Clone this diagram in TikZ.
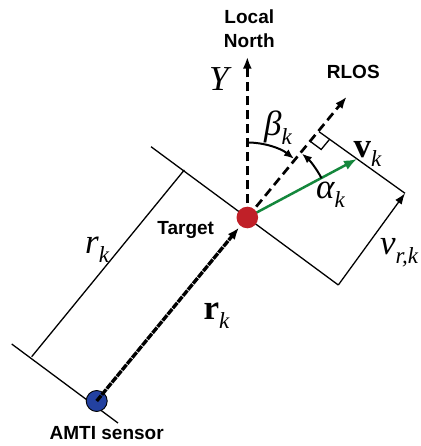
\documentclass[tikz,border=0pt]{standalone}
\usepackage{fontspec}
\setmainfont{Liberation Serif}
\setsansfont{Liberation Sans}
\usetikzlibrary{arrows.meta,calc}
\definecolor{tred}{RGB}{192,32,40}
\definecolor{sblue}{RGB}{35,65,160}
\definecolor{vgreen}{RGB}{20,135,60}
\newcommand{\mylbl}[2]{\fontsize{35}{38}\selectfont #1\raisebox{-9pt}{\normalfont\fontsize{23}{23}\selectfont\itshape #2}}
\begin{document}
\begin{tikzpicture}[x=1pt,y=1pt,
  thinline/.style={line width=1.3pt},
  dashline/.style={line width=2.7pt, dash pattern=on 9pt off 5pt, -{Latex[length=12pt,width=9pt]}},
  rvec/.style={line width=3.4pt, dash pattern=on 7pt off 1pt, -{Latex[length=12pt,width=9pt]}},
  vvec/.style={line width=2.5pt, vgreen, -{Latex[length=13pt,width=10pt]}},
  arcarrow/.style={line width=2pt, -{Latex[length=10pt,width=8pt]}},
  dimarrow/.style={line width=1.3pt, -{Latex[length=11pt,width=8pt]}},
  txt/.style={font=\sffamily\bfseries\fontsize{19}{24}\selectfont, inner sep=0pt},
  mlbl/.style={inner sep=0pt, anchor=base west}]
\useasboundingbox (0,0) rectangle (420,446);

\coordinate (A1) at (151,299.3);
\coordinate (C) at (338.3,161);
\coordinate (B1) at (11.7,102);
\coordinate (B2) at (118,23);
\coordinate (D1) at (31.7,89.3);
\coordinate (D2) at (184.3,276);
\coordinate (E) at (405,252.7);
\coordinate (F) at (319,314.3);
\coordinate (V) at (357,287);
\coordinate (R) at (346.7,349.3);
\coordinate (N) at (247.3,389.3);
\coordinate (Tc) at (247.3,228.5);
\coordinate (Sc) at (96.7,45);

% thin construction lines
\draw[thinline] (A1) -- (C);
\draw[thinline] (B1) -- (B2);
\draw[thinline] (D1) -- (D2);
\draw[thinline] (F) -- (E);
\draw[dimarrow] (C) -- (E);
% right angle mark
\coordinate (Q1) at ($(F)+(-36.5:13)$);
\coordinate (Q3) at ($(F)+(230.5:13)$);
\coordinate (Q2) at ($(Q1)+(230.5:13)$);
\draw[thinline] (Q1) -- (Q2) -- (Q3);

% dashed axes
\draw[dashline] (Tc) -- (N);
\draw[dashline] (Tc) -- (R);

% velocity vector
\draw[vvec] (Tc) -- (V);

% angle arcs
\draw[arcarrow] ($(Tc)+(90:75)$) arc[start angle=90,end angle=51.5,radius=75pt];
\draw[arcarrow] ($(Tc)+(27.8:84)$) arc[start angle=27.8,end angle=49.5,radius=84pt];

% nodes
\node[circle, fill=tred, minimum size=21.6pt, inner sep=0pt] (T) at (Tc) {};
\node[circle, fill=sblue, draw=black, line width=0.9pt, minimum size=21pt, inner sep=0pt] (S) at (Sc) {};

% range vector
\draw[rvec, shorten >=2pt] (S.center) -- (T);

% text labels
\node[txt, align=center] (north) at (249.3,417.7) {Local\\North};
\node[txt] (rlos) at (353.3,374.3) {RLOS};
\node[txt, anchor=base] (target) at (185.7,211) {Target};
\node[txt, anchor=base] (sensor) at (106.7,6) {AMTI sensor};

% math labels
\node[mlbl] (ylab) at (209,355.3) {\mylbl{\itshape Y}{}};
\node[mlbl] (blab) at (264,310) {\mylbl{\itshape β}{k}};
\node[mlbl] (alab) at (316,247.7) {\mylbl{\itshape α}{k}};
\node[mlbl] (vlab) at (353.3,288) {\mylbl{\bfseries v}{k}};
\node[mlbl] (vrlab) at (380,191) {\mylbl{\itshape v}{r,k}};
\node[mlbl] (rlab) at (85,192.7) {\mylbl{\itshape r}{k}};
\node[mlbl] (rblab) at (203.3,126.7) {\mylbl{\bfseries r}{k}};
\end{tikzpicture}
\end{document}
